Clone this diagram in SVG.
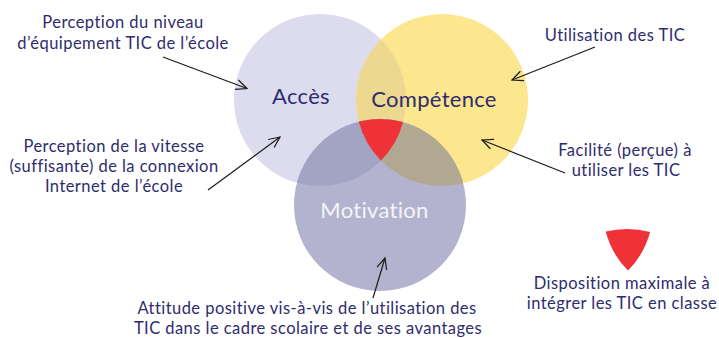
<svg xmlns="http://www.w3.org/2000/svg" width="719" height="338" viewBox="0 0 719 338">
  <style>
    .lbl { font-family: Lato, "Open Sans", sans-serif; font-size: 16.5px; letter-spacing: 0.45px; fill: #2e2c6e; text-anchor: middle; }
    .big { font-family: Lato, "Open Sans", sans-serif; font-size: 22px; letter-spacing: 0.3px; fill: #2e2c6e; text-anchor: middle; }
    .conn { stroke: #1b1b1b; stroke-width: 1.2; fill: none; marker-end: url(#arrow); }
  </style>
  <defs>
    <marker id="arrow" markerUnits="userSpaceOnUse" viewBox="-12 -7 14 14" markerWidth="14" markerHeight="14" refX="0" refY="0" orient="auto">
      <path d="M-11,-5 L0,0 L-11,5" fill="none" stroke="#1b1b1b" stroke-width="1.2"/>
    </marker>
    <clipPath id="clipM"><circle cx="380" cy="205" r="86"/></clipPath>
    <!-- region shared by all three circles -->
    <path id="core" d="M358.7,121.6 A86,86 0 0 1 403.1,122.1 A86,86 0 0 1 381,160.6 A86,86 0 0 1 358.7,121.6 Z"/>
  </defs>

  <g id="acces">
    <circle cx="320" cy="100" r="86" fill="#dcdcee"/>
    <text class="big" x="301" y="104">Accès</text>
  </g>

  <g id="competence">
    <circle cx="442" cy="100" r="86" fill="#fce78e"/>
    <!-- Accès / Compétence overlap -->
    <path d="M381,39.4 A86,86 0 0 1 381,160.6 A86,86 0 0 1 381,39.4 Z" fill="#ecd98f"/>
    <text class="big" x="434" y="107">Compétence</text>
  </g>

  <g id="motivation">
    <circle cx="380" cy="205" r="86" fill="#b3b3cf"/>
    <g clip-path="url(#clipM)">
      <circle cx="320" cy="100" r="86" fill="#a3a3c4"/>
      <circle cx="442" cy="100" r="86" fill="#b2a891"/>
    </g>
    <text class="big" x="374.5" y="218" style="fill:#f4f4f8">Motivation</text>
  </g>

  <g id="disposition">
    <use href="#core" fill="#ee3238"/>
  </g>

  <g id="connectors">
    <line class="conn" x1="163" y1="57" x2="247" y2="88.5"/>
    <line class="conn" x1="208" y1="190" x2="280" y2="137"/>
    <line class="conn" x1="595" y1="47" x2="512" y2="80"/>
    <line class="conn" x1="565" y1="173" x2="482" y2="140"/>
    <line class="conn" x1="373" y1="298" x2="385" y2="258"/>
  </g>

  <g id="note-equipement">
    <text class="lbl" x="123" y="28">Perception du niveau</text>
    <text class="lbl" x="123" y="49">d’équipement TIC de l’école</text>
  </g>

  <g id="note-vitesse">
    <text class="lbl" x="114" y="152">Perception de la vitesse</text>
    <text class="lbl" x="114" y="172">(suffisante) de la connexion</text>
    <text class="lbl" x="114" y="192">Internet de l’école</text>
  </g>

  <g id="note-utilisation">
    <text class="lbl" x="615" y="41">Utilisation des TIC</text>
  </g>

  <g id="note-facilite">
    <text class="lbl" x="625" y="156">Facilité (perçue) à</text>
    <text class="lbl" x="626" y="176">utiliser les TIC</text>
  </g>

  <g id="note-attitude">
    <text class="lbl" x="307" y="313.5">Attitude positive vis-à-vis de l’utilisation des</text>
    <text class="lbl" x="308" y="333.5">TIC dans le cadre scolaire et de ses avantages</text>
  </g>

  <g id="legend">
    <use href="#core" fill="#ee3238" transform="translate(247,110)"/>
    <text class="lbl" x="622" y="289">Disposition maximale à</text>
    <text class="lbl" x="622" y="309">intégrer les TIC en classe</text>
  </g>
</svg>
